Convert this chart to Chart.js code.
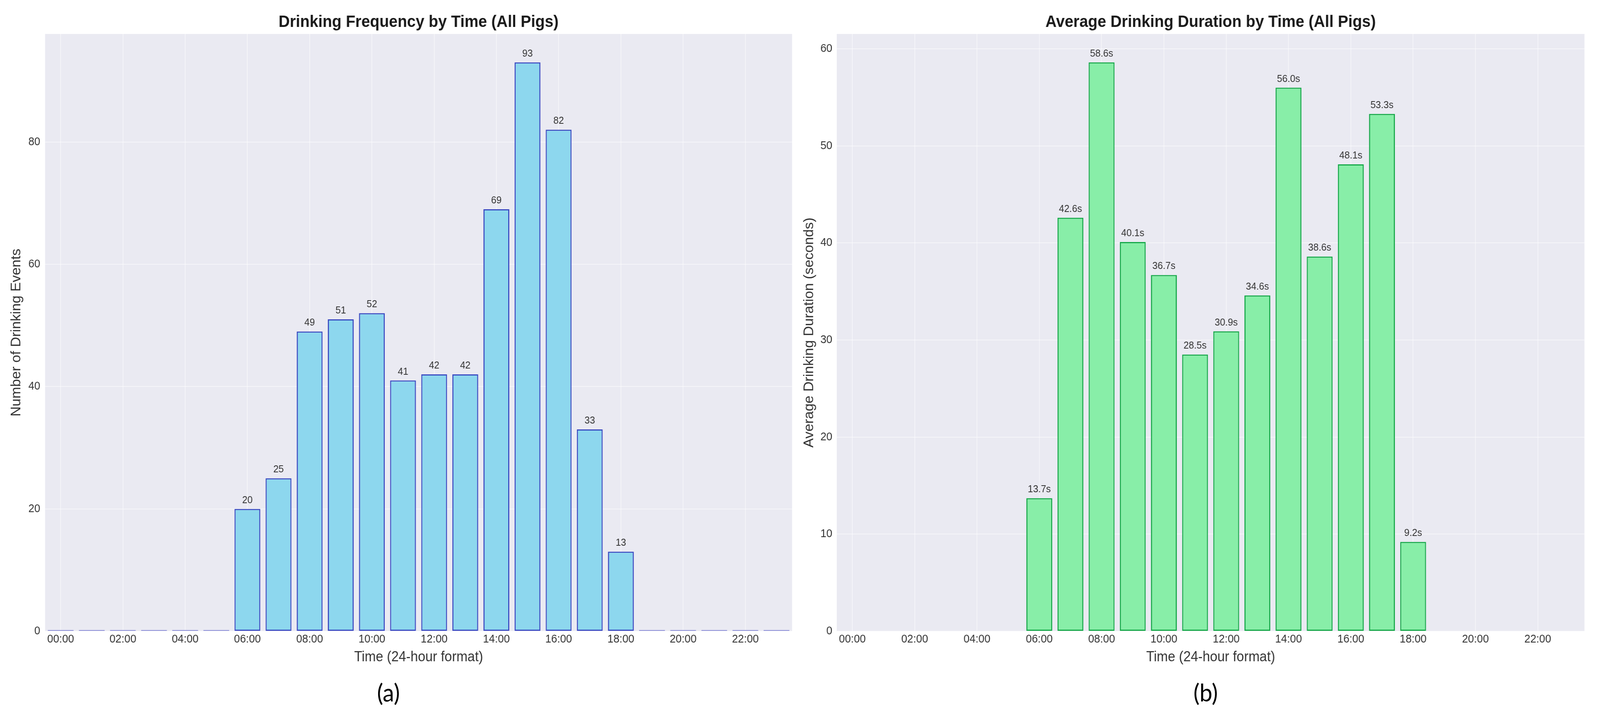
<!DOCTYPE html>
<html>
<head>
<meta charset="utf-8">
<title>Drinking Frequency and Duration by Time</title>
<script src="https://cdn.jsdelivr.net/npm/chart.js@4.4.1/dist/chart.umd.min.js"></script>
<style>
  html, body { margin: 0; padding: 0; background: #ffffff; overflow: hidden; }
  #page { width: 4329px; height: 1847px; position: relative; transform-origin: 0 0; }
  canvas { position: absolute; top: 0; }
  #freqChart { left: 0; }
  #durChart { left: 2150px; }
  .caption {
    position: absolute; top: 1735px; font-family: Lato, "Open Sans", sans-serif;
    font-size: 62px; color: #000; transform: translateX(-50%); line-height: 76px;
  }
</style>
</head>
<body>
<div id="page">
  <canvas id="freqChart" width="2150" height="1720"></canvas>
  <canvas id="durChart" width="2179" height="1720"></canvas>
  <div class="caption" style="left:1051px">(a)</div>
  <div class="caption" style="left:3262px">(b)</div>
</div>

<script>
// hourly categories
const hours = ['00:00', '01:00', '02:00', '03:00', '04:00', '05:00', '06:00', '07:00',
  '08:00', '09:00', '10:00', '11:00', '12:00', '13:00', '14:00', '15:00',
  '16:00', '17:00', '18:00', '19:00', '20:00', '21:00', '22:00', '23:00'];

// number of drinking events per hour
const frequency = [0, 0, 0, 0, 0, 0, 20, 25, 49, 51, 52, 41, 42, 42, 69, 93, 82, 33, 13, 0, 0, 0, 0, 0];

// average drinking duration per hour (seconds), no value outside 06-18
const duration = [null, null, null, null, null, null, 13.7, 42.6, 58.6, 40.1, 36.7, 28.5,
  30.9, 34.6, 56.0, 38.6, 48.1, 53.3, 9.2, null, null, null, null, null];

const freqTicks = [0, 20, 40, 60, 80];
const durTicks = [0, 10, 20, 30, 40, 50, 60];

const FONT = '"Liberation Sans", Arial, sans-serif';
const TEXT = '#333333';

// stretch the 4329x1847 layout over the viewport we actually get
const sx = window.innerWidth / 4329;
const sy = window.innerHeight / 1847;
document.getElementById('page').style.transform = 'scale(' + sx + ',' + sy + ')';

// plot background + title + value labels
const panelPlugin = {
  id: 'panel',
  beforeDraw(chart) {
    const { ctx, chartArea: a } = chart;
    ctx.save();
    ctx.fillStyle = '#eaeaf2';
    ctx.fillRect(a.left, a.top, a.right - a.left, a.bottom - a.top);
    ctx.restore();
  },
  afterDatasetsDraw(chart, args, opts) {
    const { ctx, chartArea: a } = chart;
    ctx.save();
    ctx.fillStyle = '#1a1a1a';
    ctx.font = 'bold 42px ' + FONT;
    ctx.textAlign = 'center';
    ctx.textBaseline = 'middle';
    ctx.fillText(opts.title, (a.left + a.right) / 2, 57);

    ctx.fillStyle = TEXT;
    ctx.font = '25.5px ' + FONT;
    ctx.textBaseline = 'alphabetic';
    const meta = chart.getDatasetMeta(0);
    const data = chart.data.datasets[0].data;
    meta.data.forEach((bar, i) => {
      const v = data[i];
      if (v === null || v === 0) return;
      ctx.fillText(opts.format(v), bar.x, bar.y - 15);
    });
    ctx.restore();
  }
};

function makeChart(id, cfg) {
  return new Chart(document.getElementById(id), {
    type: 'bar',
    data: {
      labels: hours,
      datasets: [{
        data: cfg.values,
        backgroundColor: cfg.fill,
        borderColor: cfg.edge,
        borderWidth: 3,
        borderSkipped: false,
        minBarLength: cfg.minBar,
        barPercentage: 0.83,
        categoryPercentage: 1.0
      }]
    },
    options: {
      responsive: false,
      animation: false,
      layout: { padding: { top: 87, right: cfg.padRight, bottom: 0, left: 0 } },
      plugins: {
        legend: { display: false },
        tooltip: { enabled: false },
        panel: { title: cfg.title, format: cfg.format }
      },
      scales: {
        x: {
          offset: true,
          grid: {
            offset: false,
            drawTicks: false,
            lineWidth: 2,
            color: c => (c.index % 2 === 0 ? 'rgba(255,255,255,0.5)' : 'rgba(0,0,0,0)')
          },
          border: { display: false },
          ticks: {
            autoSkip: false,
            maxRotation: 0,
            padding: 3.6,
            color: TEXT,
            font: { family: FONT, size: 29 },
            callback: (v, i) => (i % 2 === 0 ? hours[i] : '')
          },
          title: {
            display: true,
            text: 'Time (24-hour format)',
            color: TEXT,
            font: { family: FONT, size: 36 },
            padding: { top: 0, bottom: 14.4 }
          },
          afterFit: s => { s.height = 103; }
        },
        y: {
          min: 0,
          max: cfg.yMax,
          grid: { drawTicks: false, lineWidth: 2, color: 'rgba(255,255,255,0.5)' },
          border: { display: false },
          afterBuildTicks: s => { s.ticks = cfg.ticks.map(v => ({ value: v })); },
          ticks: {
            padding: cfg.tickPad,
            color: TEXT,
            font: { family: FONT, size: 29 }
          },
          title: {
            display: true,
            text: cfg.yTitle,
            color: TEXT,
            font: { family: FONT, size: 36 },
            padding: { top: cfg.yTitlePad, bottom: 0 }
          },
          afterFit: s => { s.width = cfg.yWidth; }
        }
      }
    },
    plugins: [panelPlugin]
  });
}

makeChart('freqChart', {
  values: frequency,
  title: 'Drinking Frequency by Time (All Pigs)',
  yTitle: 'Number of Drinking Events',
  yMax: 97.65,
  ticks: freqTicks,
  fill: '#8dd7ee',
  edge: c => (frequency[c.dataIndex] === 0 ? '#8a8cd6' : '#3a4bc2'),
  minBar: 3,
  padRight: 7,
  yWidth: 122,
  tickPad: 13,
  yTitlePad: 23.4,
  format: v => String(v)
});

makeChart('durChart', {
  values: duration,
  title: 'Average Drinking Duration by Time (All Pigs)',
  yTitle: 'Average Drinking Duration (seconds)',
  yMax: 61.53,
  ticks: durTicks,
  fill: '#88eea8',
  edge: '#15a848',
  minBar: undefined,
  padRight: 42,
  yWidth: 114,
  tickPad: 12,
  yTitlePad: 18.4,
  format: v => v.toFixed(1) + 's'
});
</script>
</body>
</html>
